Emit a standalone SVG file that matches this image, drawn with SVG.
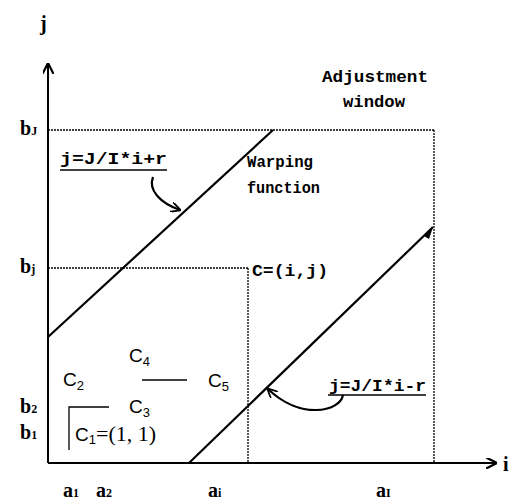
<svg xmlns="http://www.w3.org/2000/svg" width="515" height="500" viewBox="0 0 515 500">
<style>
.ax{stroke:#000;stroke-width:2;fill:none}
.dot{stroke:#000;stroke-width:1.3;stroke-dasharray:2 1;fill:none}
.ln{stroke:#000;stroke-width:2.2;fill:none}
.thin{stroke:#000;stroke-width:1.3;fill:none}
.mono{font-family:"Liberation Mono",monospace;font-weight:bold;font-size:17px;fill:#000}
.lab{font-family:"Liberation Serif",serif;font-weight:bold;font-size:20px;fill:#000}
.sub{font-size:12px}
.c{font-family:"Liberation Sans",sans-serif;font-size:19px;fill:#000}
.cs{font-size:13px}
.ser{font-family:"Liberation Serif",serif;font-size:22px}
</style>
<defs>
<marker id="ah" viewBox="0 0 10 10" refX="9" refY="5" markerWidth="10" markerHeight="10" markerUnits="userSpaceOnUse" orient="auto">
<path d="M0,0 L10,5 L0,10" fill="none" stroke="#000" stroke-width="1.8"/>
</marker>
<marker id="ah2" viewBox="0 0 10 10" refX="9" refY="5" markerWidth="11" markerHeight="11" markerUnits="userSpaceOnUse" orient="auto">
<path d="M0,0 L10,5 L0,10" fill="none" stroke="#000" stroke-width="2"/>
</marker>
</defs>
<g id="axes">
<line class="ax" x1="48" y1="463" x2="48" y2="64" marker-end="url(#ah2)"/>
<line class="ax" x1="48" y1="463" x2="496" y2="463" marker-end="url(#ah2)"/>
<text class="lab" x="40" y="30">j</text>
<text class="lab" x="503" y="471">i</text>
</g>
<g id="window">
<line class="dot" x1="48" y1="130" x2="434" y2="130"/>
<line class="dot" x1="434" y1="130" x2="434" y2="463"/>
<line class="dot" x1="48" y1="268" x2="248" y2="268"/>
<line class="dot" x1="248" y1="268" x2="248" y2="463"/>
</g>
<g id="warping-lines">
<line class="ln" x1="48" y1="337" x2="273" y2="130"/>
<line class="ln" x1="189" y1="463" x2="433" y2="227"/>
<path d="M424,236 L433,227 L429,239 Z" fill="#000"/>
</g>
<g id="labels-b">
<text class="lab" x="20" y="135">b<tspan class="sub">J</tspan></text>
<text class="lab" x="20" y="273">b<tspan class="sub">j</tspan></text>
<text class="lab" x="20" y="413">b<tspan class="sub">2</tspan></text>
<text class="lab" x="20" y="439">b<tspan class="sub">1</tspan></text>
</g>
<g id="labels-a">
<text class="lab" x="63" y="497">a<tspan class="sub">1</tspan></text>
<text class="lab" x="96" y="497">a<tspan class="sub">2</tspan></text>
<text class="lab" x="208" y="497">a<tspan class="sub">i</tspan></text>
<text class="lab" x="376" y="497">a<tspan class="sub">I</tspan></text>
</g>
<g id="adjustment-window">
<text class="mono" x="322" y="82" textLength="106" lengthAdjust="spacingAndGlyphs">Adjustment</text>
<text class="mono" x="343" y="107" textLength="62" lengthAdjust="spacingAndGlyphs">window</text>
</g>
<g id="warping-function">
<text class="mono" x="247" y="167" textLength="66" lengthAdjust="spacingAndGlyphs">Warping</text>
<text class="mono" x="247" y="193" textLength="73" lengthAdjust="spacingAndGlyphs">function</text>
</g>
<g id="point-c">
<text class="mono" x="252" y="276" textLength="76" lengthAdjust="spacingAndGlyphs">C=(i,j)</text>
</g>
<g id="eq-upper">
<text class="mono" x="60" y="164" textLength="107" lengthAdjust="spacingAndGlyphs">j=J/I*i+r</text>
<line class="thin" x1="60" y1="170" x2="167" y2="170"/>
</g>
<g id="eq-lower">
<text class="mono" x="329" y="391" textLength="97" lengthAdjust="spacingAndGlyphs">j=J/I*i-r</text>
<line class="thin" x1="328" y1="395" x2="426" y2="395"/>
</g>
<g id="cells">
<text class="c" x="129" y="362">C<tspan class="cs" dy="4">4</tspan></text>
<text class="c" x="63" y="386">C<tspan class="cs" dy="4">2</tspan></text>
<text class="c" x="208" y="387">C<tspan class="cs" dy="4">5</tspan></text>
<text class="c" x="129" y="413">C<tspan class="cs" dy="4">3</tspan></text>
<text class="c" x="75" y="441">C<tspan class="cs" dy="3">1</tspan><tspan class="ser" dy="-3">=(1, 1)</tspan></text>
<line class="thin" x1="142" y1="380" x2="187" y2="380"/>
<polyline class="thin" points="69,450 69,407 109,407"/>
</g>
<g id="connectors">
<path class="ln" stroke-width="2" d="M153,177 C148,190 160,203 180,210" marker-end="url(#ah)"/>
<path class="ln" stroke-width="2" d="M343,395 C340,412 300,420 268,389" marker-end="url(#ah)"/>
</g>
</svg>
